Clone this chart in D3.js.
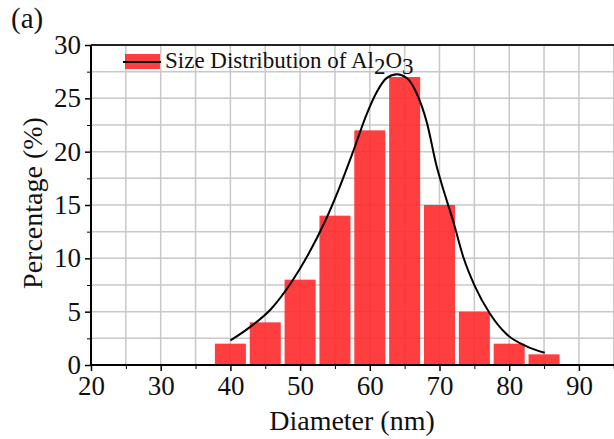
<!DOCTYPE html>
<html>
<head>
<meta charset="utf-8">
<script src="https://cdn.jsdelivr.net/npm/d3@7"></script>
<style>
  body { margin: 0; background: #fff; }
  text { font-family: "Liberation Serif", "Times New Roman", serif; }
</style>
</head>
<body>
<script>
// histogram bins (nm) and percentages
const diameters = [40, 45, 50, 55, 60, 65, 70, 75, 80, 85];
const percents = [2, 4, 8, 14, 22, 27, 15, 5, 2, 1];

// fitted curve
const fitX = [40, 42.8, 45.9, 48.8, 51.2, 53.6, 55.5, 57.6, 59.6, 61.0, 62.4, 63.9, 65.3, 66.7, 68.2, 69.6, 70.3, 72.0, 73.4, 75.1, 77.2, 79.6, 82.5, 85.1];
const fitY = [2.3, 3.55, 5.3, 7.8, 10.4, 13.5, 16.4, 20.0, 23.6, 25.6, 26.9, 27.25, 26.9, 25.5, 22.7, 18.6, 17.0, 13.4, 10.15, 7.35, 4.85, 2.9, 1.75, 1.15];

const xTicks = [20, 30, 40, 50, 60, 70, 80, 90];
const yTicks = [0, 5, 10, 15, 20, 25, 30];

const width = 614, height = 439;
const margin = {left: 91, right: 0, top: 45, bottom: 74};

const svg = d3.select('body')
            .append('svg')
            .attr('width', width)
            .attr('height', height);

const x = d3.scaleLinear()
            .domain([20, 95])
            .range([margin.left, margin.left + 75 * 6.97]);
const y = d3.scaleLinear()
            .domain([0, 30])
            .range([height - margin.bottom, margin.top]);

// grid
const grid = svg.append('g');
grid.selectAll('line.vx')
  .data(d3.range(25, 96, 5))
  .enter()
  .append('line')
  .attr('x1', d => x(d)).attr('x2', d => x(d))
  .attr('y1', y(0)).attr('y2', y(30))
  .attr('stroke', '#c8c8c8')
  .attr('stroke-width', 1.5);
grid.selectAll('line.hy')
  .data(d3.range(2.5, 30, 2.5))
  .enter()
  .append('line')
  .attr('x1', x(20)).attr('x2', width)
  .attr('y1', d => y(d)).attr('y2', d => y(d))
  .attr('stroke', '#c8c8c8')
  .attr('stroke-width', 1.5);

// bars
const barW = x(24.45) - x(20);
svg.append('g')
  .selectAll('rect')
  .data(diameters)
  .enter()
  .append('rect')
  .attr('x', d => x(d) - barW / 2)
  .attr('y', (d, i) => y(percents[i]))
  .attr('width', barW)
  .attr('height', (d, i) => y(0) - y(percents[i]))
  .attr('fill', '#ff2a2a')
  .attr('fill-opacity', 0.9);

// fitted curve
const line = d3.line()
  .x(d => x(d[0]))
  .y(d => y(d[1]))
  .curve(d3.curveMonotoneX);
svg.append('path')
  .datum(d3.zip(fitX, fitY))
  .attr('d', line)
  .attr('fill', 'none')
  .attr('stroke', '#000')
  .attr('stroke-width', 2);

// top border
svg.append('line')
  .attr('x1', x(20)).attr('x2', width)
  .attr('y1', y(30)).attr('y2', y(30))
  .attr('stroke', '#222')
  .attr('stroke-width', 2);

// x axis
const xAxis = svg.append('g')
  .attr('transform', `translate(0,${y(0)})`)
  .call(d3.axisBottom(x).tickValues(xTicks).tickSize(6).tickPadding(5).tickFormat(d3.format('d')));
svg.append('g')
  .attr('transform', `translate(0,${y(0)})`)
  .call(d3.axisBottom(x).tickValues(d3.range(25, 96, 10)).tickSize(4).tickFormat(''))
  .select('.domain').remove();
xAxis.select('.domain').attr('stroke-width', 2).attr('d', `M${x(20)},0H${width}`);
xAxis.selectAll('.tick line').attr('stroke-width', 1.5);
xAxis.selectAll('.tick text')
  .style('font-size', '27px')
  .style('font-family', 'Liberation Serif')
  .attr('fill', '#111');

// y axis
const yAxis = svg.append('g')
  .attr('transform', `translate(${x(20)},0)`)
  .call(d3.axisLeft(y).tickValues(yTicks).tickSize(6).tickPadding(4));
svg.append('g')
  .attr('transform', `translate(${x(20)},0)`)
  .call(d3.axisLeft(y).tickValues(d3.range(2.5, 30, 5)).tickSize(4).tickFormat(''))
  .select('.domain').remove();
yAxis.select('.domain').attr('stroke-width', 2).attr('d', `M0,${y(0)}V${y(30)}`);
yAxis.selectAll('.tick line').attr('stroke-width', 1.5);
yAxis.selectAll('.tick text')
  .style('font-size', '27px')
  .style('font-family', 'Liberation Serif')
  .attr('fill', '#111');

// axis titles
svg.append('text')
  .attr('x', 352)
  .attr('y', 430)
  .attr('text-anchor', 'middle')
  .style('font-size', '28px')
  .attr('fill', '#111')
  .text('Diameter (nm)');

svg.append('text')
  .attr('transform', `translate(42,203) rotate(-90)`)
  .attr('text-anchor', 'middle')
  .style('font-size', '28px')
  .attr('fill', '#111')
  .text('Percentage (%)');

svg.append('text')
  .attr('x', 11)
  .attr('y', 28)
  .style('font-size', '29px')
  .attr('fill', '#111')
  .text('(a)');

// legend
const lg = svg.append('g');
lg.append('rect')
  .attr('x', 125).attr('y', 54)
  .attr('width', 35).attr('height', 15)
  .attr('fill', '#ff2a2a')
  .attr('fill-opacity', 0.9);
lg.append('line')
  .attr('x1', 123).attr('x2', 161)
  .attr('y1', 62).attr('y2', 62)
  .attr('stroke', '#000')
  .attr('stroke-width', 2);
const lt = lg.append('text')
  .attr('x', 165)
  .attr('y', 68)
  .style('font-size', '23px')
  .attr('fill', '#111');
lt.append('tspan').text('Size Distribution of Al');
lt.append('tspan').attr('dy', 6).text('2');
lt.append('tspan').attr('dy', -6).text('O');
lt.append('tspan').attr('dy', 6).text('3');
</script>
</body>
</html>
